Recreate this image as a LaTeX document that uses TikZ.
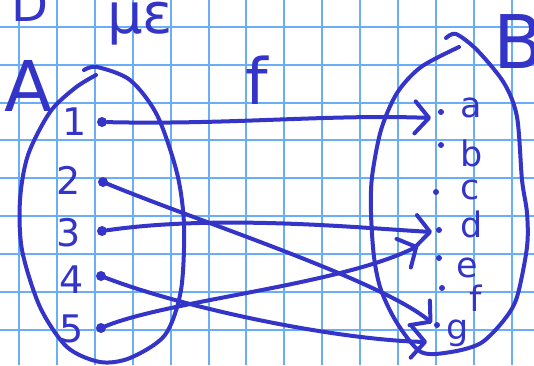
\documentclass[tikz,border=0pt]{standalone}
\usepackage{fontspec}
\setmainfont{DejaVu Sans}
\usetikzlibrary{arrows.meta}
\definecolor{inkblue}{RGB}{52,52,200}
\definecolor{gridblue}{RGB}{106,174,248}

\begin{document}
\begin{tikzpicture}[x=1pt, y=-1pt,
            pen/.style={draw=inkblue, line width=4pt, line cap=round, line join=round},
            gridline/.style={draw=gridblue, line width=2pt},
            elt/.style={circle, fill=inkblue, inner sep=0pt, minimum size=10pt},
            pt/.style={circle, fill=inkblue, inner sep=0pt, minimum size=6pt},
            digit/.style={text=inkblue, inner sep=0pt, font=\fontsize{38}{38}\selectfont},
            letter/.style={text=inkblue, inner sep=0pt, font=\fontsize{35}{35}\selectfont},
            setname/.style={text=inkblue, inner sep=0pt, font=\fontsize{70}{70}\selectfont},
            map/.style={pen, -{Straight Barb[length=14pt, width=32pt, round]}}
        ]
            \useasboundingbox (0,0) rectangle (534,365);
            \fill[white] (0,0) rectangle (534,365);
            \foreach \i in {0,...,13}
                \draw[gridline] ({19+37.9*\i},0) -- ({19+37.9*\i},365);
            \foreach \j in {0,...,8}
                \draw[gridline] (0,{26.7+37.9*\j}) -- (534,{26.7+37.9*\j});

            \draw[pen] plot[smooth] coordinates {(84,70) (97,67) (130,80) (157,115) (177,173) (184,225) (181,290) (165,335) (130,358) (100,362) (67,347) (40,307) (22,250) (20,200) (28,155) (50,112) (75,88) (96,75)};
            \draw[pen] plot[smooth] coordinates {(446,38) (456,34) (477,50) (504,83) (517,117) (522,180) (527,213) (527,247) (517,297) (504,320) (481,343) (451,352) (421,352) (397,323) (381,290) (374,257) (371,213) (372,177) (381,130) (397,93) (421,67) (459,47)};

            \node[setname, font=\fontsize{48}{48}\selectfont] (dlbl) at (30,4) {D};
            \node[setname, font=\fontsize{56}{56}\selectfont] (mulbl) at (140,24) {με};
            \node[setname] (A) at (28,86) {A};
            \node[setname, font=\fontsize{64}{64}\selectfont] (f) at (257,80) {f};
            \node[setname, font=\fontsize{74}{74}\selectfont] (B) at (519,42) {B};

            \node[elt] (n1) at (102,122) {};
            \node[elt] (n2) at (103,182) {};
            \node[elt] (n3) at (102,231) {};
            \node[elt] (n4) at (101,276) {};
            \node[elt] (n5) at (101,328) {};
            \node[digit] (l1) at (75,122) {1};
            \node[digit] (l2) at (69,180) {2};
            \node[digit] (l3) at (69,233) {3};
            \node[digit] (l4) at (72,280) {4};
            \node[digit] (l5) at (72,329) {5};

            \node[pt] (pa) at (441,112) {};
            \node[pt] (pb) at (441,145) {};
            \node[pt] (pc) at (436,192) {};
            \node[pt] (pd) at (439,230) {};
            \node[pt] (pe) at (439,258) {};
            \node[pt] (pf) at (442,288) {};
            \node[pt] (pg) at (437,325) {};
            \node[letter] (la) at (471,108) {a};
            \node[letter] (lb) at (472,153) {b};
            \node[letter] (lc) at (470,190) {c};
            \node[letter] (ld) at (472,224) {d};
            \node[letter] (le) at (467,268) {e};
            \node[letter] (lf) at (476,298) {f};
            \node[letter] (lg) at (458,333) {g};

            \coordinate (ta) at (431,118);
            \coordinate (tg2) at (432,323);
            \coordinate (td3) at (432,232);
            \coordinate (tg4) at (427,342);
            \coordinate (td5) at (418,246);

            \draw[map] (n1) .. controls (230,125) and (330,114) .. (ta);
            \draw[map] (n2) .. controls (200,222) and (380,280) .. (tg2);
            \draw[map] (n3) .. controls (220,214) and (360,228) .. (td3);
            \draw[map] (n4) .. controls (190,310) and (340,340) .. (tg4);
            \draw[map] (n5) .. controls (170,300) and (340,285) .. (td5);
        \end{tikzpicture}
\end{document}
